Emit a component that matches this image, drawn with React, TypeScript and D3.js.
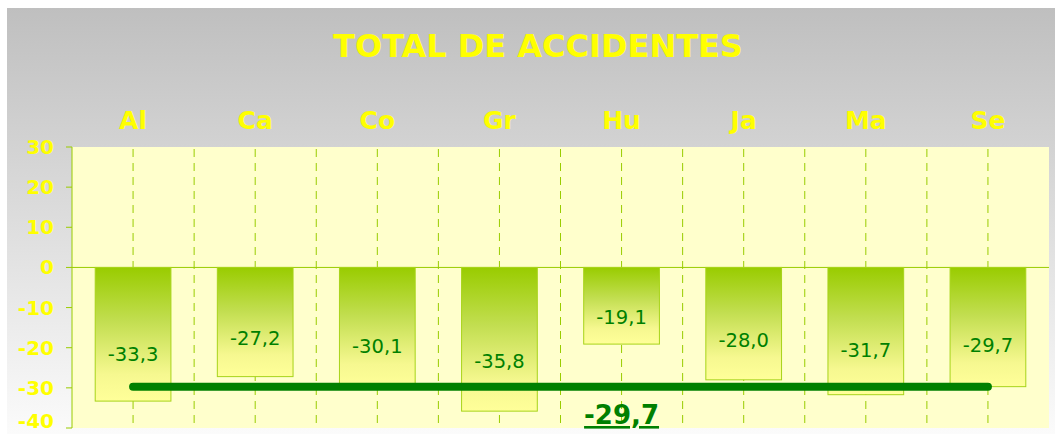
import * as d3 from "d3";

const categories = ["Al", "Ca", "Co", "Gr", "Hu", "Ja", "Ma", "Se"];
const totals = [-33.3, -27.2, -30.1, -35.8, -19.1, -28.0, -31.7, -29.7];
const average = -29.7;
const yTicks = [30, 20, 10, 0, -10, -20, -30, -40];

const W = 1055;
const H = 434;
const plot = { left: 72, top: 147, right: 1049, bottom: 428 };
const FONT = "Tahoma, Verdana, 'DejaVu Sans', sans-serif";

const fmt = (v: number) => v.toFixed(1).replace(".", ",");

export default function App() {
  const x = d3
    .scaleBand<string>()
    .domain(categories)
    .range([plot.left, plot.right])
    .paddingInner(0.38)
    .paddingOuter(0.19);
  const xBand = d3.scaleBand<string>().domain(categories).range([plot.left, plot.right]);
  const y = d3.scaleLinear().domain([-40, 30]).range([plot.bottom, plot.top]);

  const step = xBand.step();
  const centers = categories.map((c) => (xBand(c) ?? 0) + step / 2);
  const gridXs = [...centers, ...categories.slice(1).map((c) => xBand(c) ?? 0)];

  return (
    <svg
      width={W}
      height={H}
      style={{ position: "absolute", left: 0, top: 0, fontFamily: FONT }}
    >
      <defs>
        <linearGradient id="bg" x1="0" y1="0" x2="0" y2="1">
          <stop offset="0" stopColor="#bfbfbf" />
          <stop offset="1" stopColor="#fbfbfb" />
        </linearGradient>
        <linearGradient id="bar" x1="0" y1="0" x2="0" y2="1">
          <stop offset="0" stopColor="#99cc00" />
          <stop offset="0.4" stopColor="#c2de50" />
          <stop offset="0.8" stopColor="#f6f890" />
          <stop offset="1" stopColor="#ffff99" />
        </linearGradient>
      </defs>

      <rect x={7} y={8} width={W - 7} height={H - 8} fill="url(#bg)" />

      <text
        x={538}
        y={57}
        textAnchor="middle"
        fill="#ffff00"
        fontWeight="bold"
        fontSize={32}
      >
        TOTAL DE ACCIDENTES
      </text>

      {categories.map((c, i) => (
        <text
          key={c}
          x={centers[i]}
          y={129}
          textAnchor="middle"
          fill="#ffff00"
          fontWeight="bold"
          fontSize={25}
        >
          {c}
        </text>
      ))}

      <rect
        x={plot.left}
        y={plot.top}
        width={plot.right - plot.left}
        height={plot.bottom - plot.top}
        fill="#ffffcc"
      />

      {gridXs.map((gx, i) => (
        <line
          key={i}
          x1={gx}
          x2={gx}
          y1={plot.top}
          y2={plot.bottom}
          stroke="#99cc00"
          strokeWidth={1}
          strokeDasharray="8,6"
          strokeDashoffset={-2}
        />
      ))}

      <line
        x1={plot.left}
        x2={plot.right}
        y1={y(0)}
        y2={y(0)}
        stroke="#99cc00"
        strokeWidth={1}
      />

      {categories.map((c, i) => {
        const v = totals[i];
        const bx = x(c) ?? 0;
        return (
          <rect
            key={c}
            x={bx}
            y={y(0)}
            width={x.bandwidth()}
            height={y(v) - y(0)}
            fill="url(#bar)"
            stroke="#a8d41a"
            strokeWidth={1}
          />
        );
      })}

      <line
        x1={centers[0]}
        x2={centers[centers.length - 1]}
        y1={y(average)}
        y2={y(average)}
        stroke="#008000"
        strokeWidth={8}
        strokeLinecap="round"
      />

      {categories.map((c, i) => (
        <text
          key={c}
          x={centers[i]}
          y={y(totals[i] * 0.65) + 7}
          textAnchor="middle"
          fill="#008000"
          fontSize={19.5}
        >
          {fmt(totals[i])}
        </text>
      ))}

      <line x1={plot.left} x2={plot.left} y1={plot.top} y2={plot.bottom} stroke="#99cc00" />
      {yTicks.map((t) => (
        <g key={t}>
          <line x1={plot.left - 6} x2={plot.left} y1={y(t)} y2={y(t)} stroke="#99cc00" />
          <text
            x={54}
            y={Math.min(y(t) + 7, H - 6)}
            textAnchor="end"
            fill="#ffff00"
            fontWeight="bold"
            fontSize={20}
          >
            {t < 0 ? `-${Math.abs(t)}` : t}
          </text>
        </g>
      ))}

      <text
        x={centers[4]}
        y={424}
        textAnchor="middle"
        fill="#008000"
        fontWeight="bold"
        fontSize={26}
        textDecoration="underline"
      >
        {fmt(average)}
      </text>
    </svg>
  );
}
